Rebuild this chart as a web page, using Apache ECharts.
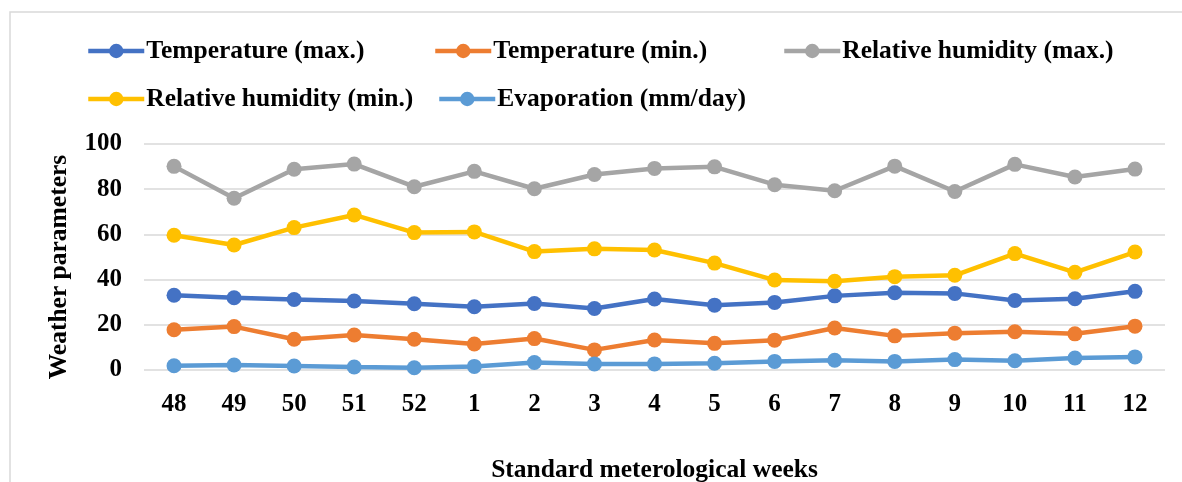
<!DOCTYPE html>
<html>
<head>
<meta charset="utf-8">
<script src="https://cdn.jsdelivr.net/npm/echarts@6/dist/echarts.min.js"></script>
<style>html,body{margin:0;padding:0;background:#fff}#c{width:1182px;height:482px}</style>
</head>
<body>
<div id="c"></div>
<script>
var weeks = ['48','49','50','51','52','1','2','3','4','5','6','7','8','9','10','11','12'];
var tempMax = [33.1,32.0,31.2,30.5,29.3,28.0,29.4,27.2,31.4,28.7,29.9,32.8,34.2,33.9,30.8,31.5,34.8];
var tempMin = [17.8,19.2,13.6,15.5,13.6,11.5,13.9,8.9,13.3,11.8,13.2,18.6,15.1,16.3,16.9,16.0,19.4];
var rhMax = [90.1,76.0,88.8,91.1,81.1,87.9,80.2,86.5,89.2,89.9,82.0,79.3,90.2,79.0,91.0,85.4,88.9];
var rhMin = [59.6,55.3,63.0,68.6,60.8,61.1,52.4,53.6,53.1,47.3,39.8,39.3,41.3,41.9,51.5,43.2,52.2];
var evap = [1.9,2.2,1.8,1.3,1.0,1.6,3.3,2.7,2.7,3.0,3.8,4.3,3.8,4.6,4.1,5.3,5.8];
var yTicks = [0,20,40,60,80,100];

var names = ['Temperature (max.)','Temperature (min.)','Relative humidity (max.)','Relative humidity (min.)','Evaporation (mm/day)'];
var colors = ['#4472C4','#ED7D31','#A5A5A5','#FFC000','#5B9BD5'];
var datas = [tempMax,tempMin,rhMax,rhMin,evap];
var font = '"Liberation Serif","Times New Roman",serif';

var legendPos = [[86,38],[433,38],[782,38],[86,86],[437,86]];
var legends = names.map(function(n,i){
  return {
    data:[n], left:legendPos[i][0], top:legendPos[i][1],
    itemWidth:56, itemHeight:18, itemGap:0, padding:0,
    lineStyle:{width:4.5},
    textStyle:{fontFamily:font,fontWeight:'bold',fontSize:25.5,color:'#000',padding:[0,0,0,-3]}
  };
});

var chart = echarts.init(document.getElementById('c'));
chart.setOption({
  animation:false,
  backgroundColor:'#fff',
  color:colors,
  graphic:[
    {type:'rect',shape:{x:10,y:12,width:1200,height:500},style:{fill:'none',stroke:'#d9d9d9',lineWidth:1.5},silent:true},
    {type:'text',x:59,y:267,rotation:Math.PI/2,silent:true,
      style:{text:'Weather parameters',fontFamily:font,fontWeight:'bold',fontSize:25.5,fill:'#000',align:'center',verticalAlign:'middle'}}
  ],
  legend:legends,
  grid:{left:144,right:17,top:144,bottom:112,containLabel:false,outerBoundsMode:'none'},
  xAxis:{
    type:'category', data:weeks, boundaryGap:true,
    axisLine:{show:false}, axisTick:{show:false},
    axisLabel:{fontFamily:font,fontWeight:'bold',fontSize:25,color:'#000',margin:22},
    name:'Standard meterological weeks', nameLocation:'middle', nameGap:87,
    nameTextStyle:{fontFamily:font,fontWeight:'bold',fontSize:25.5,color:'#000'}
  },
  yAxis:{
    type:'value', min:yTicks[0], max:yTicks[yTicks.length-1], interval:20,
    axisLine:{show:false}, axisTick:{show:false},
    splitLine:{lineStyle:{color:'#d9d9d9',width:1.5}},
    axisLabel:{fontFamily:font,fontWeight:'bold',fontSize:25,color:'#000',margin:22}
  },
  series:names.map(function(n,i){
    return {name:n,type:'line',data:datas[i],symbol:'circle',symbolSize:15,
      lineStyle:{width:4.5,color:colors[i]},itemStyle:{color:colors[i]}};
  })
});
</script>
</body>
</html>
